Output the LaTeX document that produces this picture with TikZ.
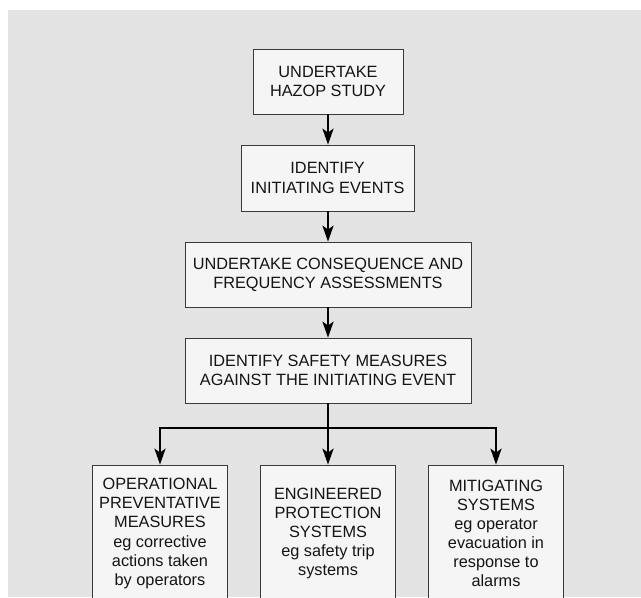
\documentclass[tikz,border=0pt]{standalone}
\usepackage{fontspec}
\setmainfont{Liberation Sans}
\usepackage{xcolor}
\definecolor{cBack}{HTML}{E3E3E3}
\definecolor{cBox}{HTML}{F5F5F5}
\definecolor{cLine}{HTML}{3A3A3A}
\definecolor{cText}{HTML}{141414}
\usetikzlibrary{arrows.meta}
\usetikzlibrary{calc}

\begin{document}
\begin{tikzpicture}[
		stage/.style={draw=cLine, line width=0.6pt, fill=cBox, text=cText, align=center, minimum height=1.625cm, font=\fontsize{11.6}{13.6}\selectfont},
		measure/.style={stage, minimum width=3.375cm, minimum height=3.425cm},
		flow/.style={line width=1.4pt, -{Stealth[length=0.4cm, width=0.28cm, inset=0.1cm]}}
	]
			\useasboundingbox (0,0) rectangle (16.025,14.925);
			\clip (0,0) rectangle (16.025,14.925);
			\fill [cBack] (0.2,0) rectangle (16.025,14.675);
			% main chain
			\node [stage, minimum width=3.75cm] (hazop) at (8.2,12.8875) {UNDERTAKE\\HAZOP STUDY};
			\node [stage, minimum width=4.325cm, minimum height=1.65cm] (events) at (8.19,10.475) {IDENTIFY\\INITIATING EVENTS};
			\node [stage, minimum width=7.15cm] (assess) at (8.2,8.0625) {UNDERTAKE CONSEQUENCE AND\\FREQUENCY ASSESSMENTS};
			\node [stage, minimum width=7.15cm] (safety) at (8.2,5.6625) {IDENTIFY SAFETY MEASURES\\AGAINST THE INITIATING EVENT};
			% safety measures
			\node [measure] (oper) at (4,1.5875) {OPERATIONAL\\PREVENTATIVE\\MEASURES\\eg corrective\\actions taken\\by operators};
			\node [measure] (engin) at (8.2,1.5875) {ENGINEERED\\PROTECTION\\SYSTEMS\\eg safety trip\\systems};
			\node [measure] (mitig) at (12.4,1.5875) {MITIGATING\\SYSTEMS\\eg operator\\evacuation in\\response to\\alarms};
			\coordinate (split) at (8.2,4.225);
			\draw [flow] (hazop) -- (hazop |- events.north);
			\draw [flow] (events.south -| hazop) -- (assess);
			\draw [flow] (assess) -- (safety);
			\draw [flow] (safety) -- (engin);
			\draw [flow] (split) -| (oper);
			\draw [flow] (split) -| (mitig);
		\end{tikzpicture}
\end{document}
